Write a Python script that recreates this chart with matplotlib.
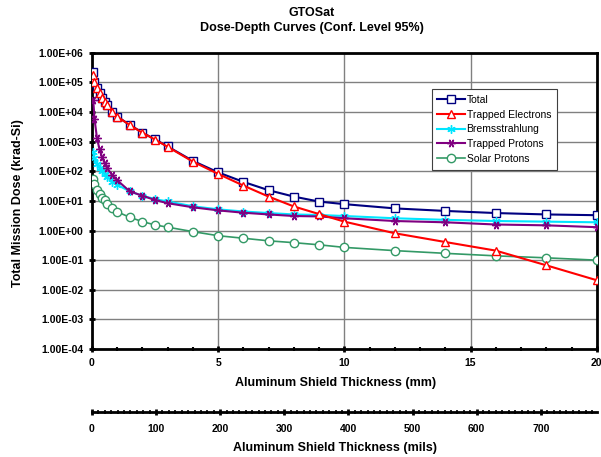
import numpy as np
import matplotlib
matplotlib.use("Agg")
import matplotlib.pyplot as plt
from matplotlib.ticker import FixedLocator, MultipleLocator, NullFormatter

plt.rcParams['font.family'] = ['Liberation Sans', 'DejaVu Sans']

# shield thickness (mm)
depth = [0.05, 0.1, 0.2, 0.3, 0.4, 0.5, 0.6, 0.8, 1.0, 1.5, 2.0, 2.5, 3.0,
         4.0, 5.0, 6.0, 7.0, 8.0, 9.0, 10.0, 12.0, 14.0, 16.0, 18.0, 20.0]

total = [2.2e5, 1.07e5, 6.5e4, 4.4e4, 3.1e4, 2.25e4, 1.75e4, 1.04e4, 7.1e3,
         3.7e3, 2.03e3, 1.2e3, 690, 225, 92, 44, 23, 14, 9.5, 7.8,
         5.6, 4.6, 3.9, 3.5, 3.3]
electrons = [1.8e5, 1.0e5, 6.3e4, 4.3e4, 3.05e4, 2.2e4, 1.72e4, 1.03e4, 7.0e3,
             3.65e3, 2.0e3, 1.18e3, 670, 212, 82, 33, 14, 6.5, 3.6, 2.0,
             0.81, 0.41, 0.21, 0.067, 0.021]
brems = [450, 280, 180, 130, 100, 80, 65, 45, 35, 21, 15, 11.5, 9.6,
         6.6, 5.2, 4.4, 3.9, 3.5, 3.35, 3.1, 2.6, 2.3, 2.1, 2.0, 1.9]
trapped_p = [2.6e4, 6.0e3, 1.3e3, 550, 300, 190, 130, 75, 50, 21, 15, 10.7, 8.4,
             6.1, 4.8, 4.0, 3.5, 3.1, 3.0, 2.6, 2.1, 1.9, 1.6, 1.5, 1.3]
solar_p = [55, 36, 23, 17, 13, 10.5, 8.0, 5.6, 4.3, 2.8, 2.0, 1.55, 1.3,
           0.92, 0.67, 0.55, 0.45, 0.39, 0.33, 0.27, 0.21, 0.17, 0.14, 0.12, 0.10]

ytick_vals = [1e-4, 1e-3, 1e-2, 1e-1, 1e0, 1e1, 1e2, 1e3, 1e4, 1e5, 1e6]
ytick_labels = ['1.00E-04', '1.00E-03', '1.00E-02', '1.00E-01', '1.00E+00',
                '1.00E+01', '1.00E+02', '1.00E+03', '1.00E+04', '1.00E+05', '1.00E+06']

fig = plt.figure(figsize=(6.01, 4.57), dpi=100)
ax = fig.add_axes([0.153, 0.2363, 0.840, 0.648])

ms = 6
ax.plot(depth, total, color='#000080', lw=1.5, marker='s', ms=ms,
        mfc='white', mec='#000080', mew=1, label='Total', zorder=3)
ax.plot(depth, electrons, color='#FF0000', lw=1.5, marker='^', ms=ms,
        mfc='white', mec='#FF0000', mew=1, label='Trapped Electrons', zorder=4)
ax.plot(depth, brems, color='#00E5FF', lw=1.5, marker=(6, 2, 0), ms=ms,
        mec='#00E5FF', mew=1, label='Bremsstrahlung', zorder=3)
ax.plot(depth, trapped_p, color='#800080', lw=1.5, marker=(6, 2, 90), ms=ms,
        mec='#800080', mew=1, label='Trapped Protons', zorder=3)
ax.plot(depth, solar_p, color='#339966', lw=1.2, marker='o', ms=ms,
        mfc='white', mec='#339966', mew=1, label='Solar Protons', zorder=3)

ax.set_yscale('log')
ax.set_ylim(1e-4, 1e6)
ax.set_xlim(0, 20)
ax.yaxis.set_major_locator(FixedLocator(ytick_vals))
ax.yaxis.set_minor_locator(FixedLocator([]))
ax.set_yticklabels(ytick_labels)
ax.yaxis.set_minor_formatter(NullFormatter())
ax.xaxis.set_major_locator(MultipleLocator(5))
ax.xaxis.set_minor_locator(MultipleLocator(1))

ax.grid(True, which='major', color='#808080', lw=1)
ax.set_axisbelow(True)
for s in ax.spines.values():
    s.set_linewidth(2)
ax.tick_params(axis='both', which='major', direction='inout', length=5, width=2,
               labelsize=7.5)
ax.tick_params(axis='x', which='minor', direction='inout', length=3, width=1.5)
for lbl in ax.get_xticklabels() + ax.get_yticklabels():
    lbl.set_fontweight('bold')
ax.tick_params(axis='x', pad=4)

fig.text(336 / 601, 1 - 383 / 457, 'Aluminum Shield Thickness (mm)', fontsize=9,
         fontweight='bold', ha='center', va='center')
fig.text(18 / 601, 1 - 203 / 457, 'Total Mission Dose (krad-Si)', fontsize=9,
         fontweight='bold', ha='center', va='center', rotation=90)
fig.text(312 / 601, 1 - 13 / 457, 'GTOSat', fontsize=9,
         fontweight='bold', ha='center', va='center')
fig.text(312 / 601, 1 - 28 / 457, 'Dose-Depth Curves (Conf. Level 95%)', fontsize=9,
         fontweight='bold', ha='center', va='center')

leg = ax.legend(loc='upper left', bbox_to_anchor=(0.673, 0.877), fontsize=7.5,
                frameon=True, fancybox=False, framealpha=1, edgecolor='#404040',
                handlelength=2.6, labelspacing=0.45, borderpad=0.55,
                handletextpad=0.2, borderaxespad=0)
leg.get_frame().set_linewidth(0.8)

# secondary axis in mils
ax2 = fig.add_axes([0.153, 0.0985, 0.840, 0.0001])
ax2.set_xlim(0, 20 / 0.0254)
ax2.set_yticks([])
for k in ['top', 'left', 'right']:
    ax2.spines[k].set_visible(False)
ax2.spines['bottom'].set_linewidth(2)
ax2.patch.set_visible(False)
ax2.xaxis.set_major_locator(MultipleLocator(100))
ax2.xaxis.set_minor_locator(MultipleLocator(10))
ax2.tick_params(axis='x', which='major', direction='inout', length=5, width=2,
                labelsize=7.5, pad=6)
ax2.tick_params(axis='x', which='minor', direction='inout', length=3, width=1.2)
ax2.set_xticks([0, 100, 200, 300, 400, 500, 600, 700])
for lbl in ax2.get_xticklabels():
    lbl.set_fontweight('bold')
fig.text(335 / 601, 1 - 448 / 457, 'Aluminum Shield Thickness (mils)', fontsize=9,
         fontweight='bold', ha='center', va='center')

fig.savefig('out.png', dpi=100)
